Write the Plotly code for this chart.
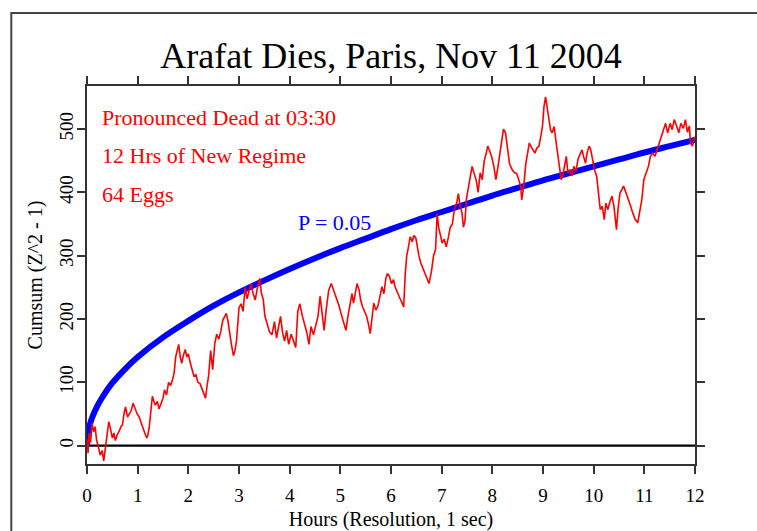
import plotly.graph_objects as go

# ---------------- data ----------------
title_text = "Arafat Dies, Paris, Nov 11 2004"
x_title = "Hours (Resolution, 1 sec)"
y_title = "Cumsum (Z^2 - 1)"
notes = ["Pronounced Dead at 03:30", "12 Hrs of New Regime", "64 Eggs"]
p_label = "P = 0.05"

x_ticks = list(range(0, 13))
y_ticks = [0, 100, 200, 300, 400, 500]

# cumulative deviation (red)
red_hours = [
    0.00, 0.01, 0.02, 0.04, 0.07, 0.10, 0.13, 0.16, 0.19, 0.22, 0.26, 0.30, 0.33, 0.36, 0.40,
    0.43, 0.46, 0.50, 0.53, 0.56, 0.60, 0.63, 0.67, 0.70, 0.73, 0.76, 0.80, 0.83, 0.87, 0.91,
    0.95, 0.99, 1.03, 1.07, 1.10, 1.14, 1.18, 1.20, 1.23, 1.26, 1.29, 1.32, 1.35, 1.39, 1.42,
    1.46, 1.50, 1.53, 1.57, 1.61, 1.65, 1.69, 1.72, 1.75, 1.78, 1.81, 1.84, 1.87, 1.90, 1.94,
    1.97, 2.00, 2.04, 2.07, 2.11, 2.15, 2.19, 2.23, 2.27, 2.31, 2.34, 2.37, 2.40, 2.44, 2.48,
    2.52, 2.56, 2.60, 2.64, 2.68, 2.72, 2.75, 2.78, 2.81, 2.85, 2.89, 2.92, 2.95, 2.97, 3.00,
    3.04, 3.08, 3.12, 3.16, 3.20, 3.24, 3.28, 3.32, 3.36, 3.41, 3.44, 3.48, 3.51, 3.55, 3.60,
    3.65, 3.70, 3.74, 3.78, 3.82, 3.86, 3.90, 3.94, 3.98, 4.03, 4.08, 4.12, 4.16, 4.20, 4.25,
    4.30, 4.34, 4.38, 4.42, 4.47, 4.52, 4.56, 4.60, 4.64, 4.68, 4.72, 4.77, 4.82, 4.87, 4.92,
    4.97, 5.01, 5.06, 5.11, 5.15, 5.19, 5.23, 5.26, 5.30, 5.33, 5.37, 5.40, 5.44, 5.48, 5.52,
    5.56, 5.59, 5.62, 5.66, 5.70, 5.74, 5.78, 5.82, 5.86, 5.90, 5.93, 5.97, 6.01, 6.05, 6.08,
    6.13, 6.18, 6.22, 6.25, 6.28, 6.31, 6.34, 6.38, 6.42, 6.45, 6.49, 6.52, 6.55, 6.59, 6.63,
    6.67, 6.71, 6.75, 6.80, 6.84, 6.88, 6.91, 6.94, 6.97, 7.01, 7.05, 7.09, 7.13, 7.17, 7.21,
    7.25, 7.30, 7.33, 7.36, 7.40, 7.43, 7.46, 7.49, 7.53, 7.56, 7.60, 7.64, 7.68, 7.72, 7.76,
    7.80, 7.84, 7.88, 7.91, 7.95, 7.99, 8.03, 8.07, 8.11, 8.15, 8.19, 8.22, 8.26, 8.30, 8.34,
    8.39, 8.44, 8.48, 8.52, 8.56, 8.58, 8.62, 8.66, 8.69, 8.73, 8.76, 8.80, 8.84, 8.88, 8.92,
    8.96, 8.99, 9.02, 9.05, 9.08, 9.11, 9.15, 9.18, 9.22, 9.26, 9.29, 9.32, 9.36, 9.40, 9.44,
    9.46, 9.49, 9.53, 9.57, 9.61, 9.65, 9.69, 9.73, 9.77, 9.80, 9.84, 9.87, 9.91, 9.94, 9.98,
    10.02, 10.06, 10.09, 10.13, 10.17, 10.21, 10.24, 10.28, 10.32, 10.36, 10.40, 10.43, 10.45,
    10.48, 10.52, 10.56, 10.59, 10.64, 10.68, 10.73, 10.77, 10.82, 10.87, 10.91, 10.95, 10.99,
    11.03, 11.08, 11.12, 11.16, 11.21, 11.25, 11.30, 11.34, 11.38, 11.42, 11.46, 11.51, 11.55,
    11.59, 11.64, 11.68, 11.72, 11.77, 11.81, 11.85, 11.89, 11.91, 11.95, 11.99,
]
red_values = [
    -5, 10, -12, 20, 5, 35, 22, 30, 8, 0, -15, -8, -24, -5, 25,
    38, 28, 12, 20, 8, 18, 22, 30, 33, 50, 61, 45, 50, 55, 67,
    58, 50, 45, 35, 30, 20, 12, 16, 30, 55, 78, 70, 64, 70, 58,
    66, 75, 88, 80, 100, 95, 105, 115, 140, 150, 160, 140, 130, 142, 152,
    140, 145, 130, 122, 110, 112, 100, 98, 90, 82, 75, 95, 110, 150, 120,
    160, 176, 168, 180, 198, 205, 209, 198, 180, 160, 142, 150, 165, 190, 218,
    224, 212, 250, 232, 245, 255, 240, 230, 248, 264, 242, 230, 205, 192, 180,
    175, 196, 170, 185, 204, 178, 165, 182, 160, 176, 165, 155, 212, 224, 205,
    190, 178, 160, 188, 175, 192, 205, 236, 212, 182, 214, 245, 256, 245, 236,
    222, 210, 195, 182, 204, 225, 240, 225, 245, 256, 246, 230, 219, 210, 204,
    190, 177, 198, 225, 214, 220, 235, 251, 240, 265, 272, 267, 256, 262, 251,
    240, 232, 225, 219, 270, 300, 312, 330, 322, 332, 328, 310, 300, 288, 280,
    272, 262, 256, 276, 300, 310, 366, 345, 335, 320, 326, 314, 328, 345, 350,
    372, 385, 398, 380, 368, 345, 355, 390, 410, 425, 441, 430, 420, 400, 431,
    420, 450, 462, 473, 465, 455, 441, 420, 440, 462, 485, 500, 494, 473, 445,
    436, 431, 430, 420, 410, 388, 410, 445, 462, 478, 473, 468, 462, 470, 473,
    490, 505, 536, 551, 535, 515, 498, 494, 504, 478, 460, 441, 420, 431, 445,
    457, 431, 436, 426, 441, 433, 452, 460, 467, 457, 446, 462, 473, 468, 450,
    435, 425, 399, 373, 378, 357, 383, 373, 385, 394, 378, 360, 341,
    373, 399, 405, 410, 399, 388, 378, 368, 357, 352, 368, 388, 420,
    431, 441, 457, 462, 457, 467, 478, 488, 499, 509, 494, 509, 499,
    515, 504, 494, 509, 501, 515, 495, 505, 478, 473, 488,
]

# P = 0.05 envelope (blue), read at selected hours
blue_hours = [0, 0.02, 0.05, 0.1, 0.2, 0.3, 0.5, 0.75, 1, 1.5, 2, 2.5, 3, 3.5, 4, 4.5, 5,
              5.5, 6, 6.5, 7, 7.5, 8, 8.5, 9, 9.5, 10, 10.5, 11, 11.5, 12]
blue_values = [0, 20, 31, 44, 62, 76, 99, 121, 140, 171, 197, 221, 242, 261, 279, 296, 312,
               327, 342, 356, 369, 382, 395, 407, 419, 430, 441, 452, 463, 473, 483]

SERIF = "Liberation Serif, Times New Roman, serif"

fig = go.Figure()

# zero reference line
fig.add_trace(go.Scatter(x=[x_ticks[0], x_ticks[-1]], y=[0, 0], mode="lines",
                         line=dict(color="black", width=2.2), hoverinfo="skip",
                         showlegend=False))

fig.add_trace(go.Scatter(x=blue_hours, y=blue_values, mode="lines",
                         line=dict(color="#0000ff", width=6, shape="spline"),
                         showlegend=False))

fig.add_trace(go.Scatter(x=red_hours, y=red_values, mode="lines",
                         line=dict(color="#ff0000", width=1.6),
                         showlegend=False))

axis_common = dict(
    showline=True, linecolor="#333333", linewidth=1.5, mirror="ticks",
    ticks="outside", ticklen=8, tickwidth=1.5, tickcolor="#333333",
    showgrid=False, zeroline=False, automargin=False,
    tickfont=dict(family=SERIF, size=19, color="black"),
)

fig.update_layout(
    width=757, height=531,
    margin=dict(l=87, r=62, t=86, b=67),
    paper_bgcolor="white", plot_bgcolor="white",
    title=dict(text=title_text, x=0.5, xanchor="center", xref="paper",
               y=1 - 55 / 531, yref="container", yanchor="middle",
               font=dict(family=SERIF, size=36, color="black")),
    xaxis=dict(range=[0, 12], tickvals=x_ticks, ticklabelstandoff=5, **axis_common,
               title=dict(text=x_title, standoff=12,
                          font=dict(family=SERIF, size=20, color="black"))),
    yaxis=dict(range=[-29, 568], tickvals=y_ticks, tickangle=-90, ticklabelstandoff=-3,
               **axis_common,
               title=dict(text=y_title, standoff=8,
                          font=dict(family=SERIF, size=20, color="black"))),
    showlegend=False,
)

# notes in red
for txt, yv in zip(notes, [518, 458, 396]):
    fig.add_annotation(x=0.26, y=yv, xref="x", yref="y", text=txt, showarrow=False,
                       xanchor="left", yanchor="middle",
                       font=dict(family=SERIF, size=22, color="#ff0000"))

fig.add_annotation(x=4.13, y=353, xref="x", yref="y", text=p_label, showarrow=False,
                   xanchor="left", yanchor="middle",
                   font=dict(family=SERIF, size=22, color="#0000ff"))

# outer frame
fig.add_shape(type="rect", xref="paper", yref="paper",
              x0=-0.1245, x1=1.25, y0=-0.3, y1=1.193,
              line=dict(color="#444444", width=2), fillcolor="rgba(0,0,0,0)", layer="above")

fig.write_html("out.html")
